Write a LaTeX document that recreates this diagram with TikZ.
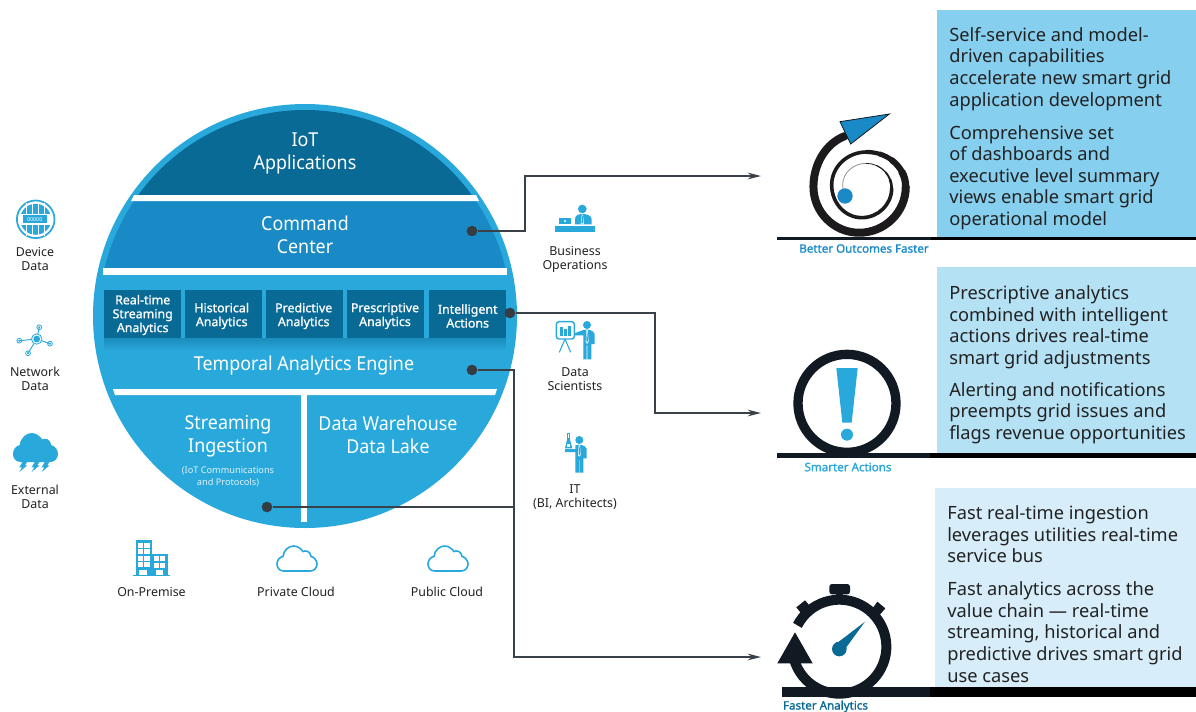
\documentclass[tikz,border=0pt]{standalone}
\usepackage{fontspec}
\setmainfont{Noto Sans}
\newfontfamily\semib[FakeBold=1.0]{Noto Sans}
\newfontfamily\tagf[FakeBold=1.4]{Noto Sans}
\IfFontExistsTF{Noto Sans Light}{\newfontfamily\lightf[FakeStretch=0.93]{Noto Sans Light}}{\newfontfamily\lightf[FakeStretch=0.93]{Noto Sans}}
\usetikzlibrary{arrows.meta,shadings}
\definecolor{cyanb}{HTML}{29A8DC}
\definecolor{midb}{HTML}{1A8AC6}
\definecolor{darkb}{HTML}{0A6A96}
\definecolor{ink}{HTML}{111922}
\definecolor{spiral}{HTML}{1C1A1C}
\definecolor{txt}{HTML}{222222}
\definecolor{wire}{HTML}{3A4149}
\definecolor{panela}{HTML}{87CFEE}
\definecolor{panelb}{HTML}{B5E1F5}
\definecolor{panelc}{HTML}{D7EEFA}
\newcommand{\cloudpath}{(20,72) .. controls (5,72) and (0,60) .. (0,52) .. controls (0,40) and (8,32) .. (18,30) .. controls (20,12) and (35,0) .. (50,0) .. controls (62,0) and (72,8) .. (78,16) .. controls (85,12) and (100,14) .. (102,30) .. controls (112,32) and (120,42) .. (120,52) .. controls (120,62) and (112,72) .. (100,72) -- cycle}
\tikzset{
 big/.style={text=white,align=center,inner sep=0,font=\lightf\fontsize{14.4pt}{17.2pt}\selectfont},
 boxt/.style={text=white,align=center,inner sep=0,font=\semib\fontsize{9.3pt}{10.4pt}\selectfont},
 lab/.style={text=txt,align=center,inner sep=0,font=\fontsize{9.3pt}{10.5pt}\selectfont},
 para/.style={text=txt,align=left,anchor=north west,inner sep=0,font=\fontsize{13.7pt}{16.2pt}\selectfont},
 tag/.style={inner sep=0,font=\tagf\fontsize{8.7pt}{10pt}\selectfont},
 dotn/.style={circle,fill=ink!85!white,inner sep=0,minimum size=8pt},
 wirel/.style={draw=wire,line width=1pt},
 arrowl/.style={wirel,-{Stealth[length=10pt,width=5pt]}},
 abox/.style={fill=darkb},
 strip/.style={fill=white},
 spiralp/.style={draw=spiral,line cap=round},
}
\begin{document}
\begin{tikzpicture}[x=.75pt,y=-.75pt]
\useasboundingbox (0,0) rectangle (1196,711);
% panels
\fill[panela] (937,10) rectangle (1196,238);
\fill[panelb] (937,267) rectangle (1196,455);
\fill[panelc] (935,488) rectangle (1196,697);
% sphere
\fill[cyanb] (305,316) circle[radius=212];
\begin{scope}
\clip (305,316) circle[radius=206];
\fill[darkb] (90,100) rectangle (520,195);
\fill[midb] (90,201) rectangle (520,268);
\end{scope}
\fill[strip] (134,195) -- (476,195) -- (479,201) -- (131,201) -- cycle;
\fill[strip] (103,268) -- (507,268) -- (507,275) -- (103,275) -- cycle;
\fill[strip] (113,389) -- (497,389) -- (495,395) -- (115,395) -- cycle;
\fill[strip] (300.7,395) rectangle (306.7,522);
\shade[bottom color=cyanb,top color=darkb!45!cyanb] (104,338) rectangle (506,351);
\fill[abox] (104,290) rectangle (181,338);
\fill[abox] (185,290) rectangle (262,338);
\fill[abox] (266,290) rectangle (343,338);
\fill[abox] (347,290) rectangle (424,338);
\fill[abox] (429,290) rectangle (506,338);
\node[big] (iot) at (305,153.5) {IoT\\Applications};
\node[big] (cmd) at (305,235) {Command\\Center};
\node[boxt] (b1) at (142.7,315) {Real-time\\Streaming\\Analytics};
\node[boxt] (b2) at (221.7,316) {Historical\\Analytics};
\node[boxt] (b3) at (303.7,316) {Predictive\\Analytics};
\node[boxt] (b4) at (385,316) {Prescriptive\\Analytics};
\node[boxt] (b5) at (467.7,316) {Intelligent\\Actions};
\node[big] (tae) at (304,365.5) {Temporal Analytics Engine};
\node[big] (si) at (228,436) {Streaming\\Ingestion};
\node[big] (dw) at (388,435) {Data Warehouse\\Data Lake};
\node[inner sep=0,align=center,text=white!85!cyanb,font=\fontsize{6.9pt}{9pt}\selectfont] (proto) at (228,476.5) {(IoT Communications\\and Protocols)};
% connectors
\node[dotn] (d1) at (472,231) {};
\node[dotn] (d2) at (510,313) {};
\node[dotn] (d3) at (472,370) {};
\node[dotn] (d4) at (267,507) {};
\coordinate (t1) at (761,176);
\coordinate (t2) at (761,413);
\coordinate (t3) at (761,657);
\coordinate (j4) at (514,507);
\draw[arrowl] (d1) -- (525,231) -- (525,176) -- (t1);
\draw[arrowl] (d2) -- (655,313) -- (655,413) -- (t2);
\draw[arrowl] (d3) -- (514,370) -- (514,657) -- (t3);
\draw[wirel] (d4) -- (j4);
% left labels
\node[lab] (l1) at (35,259) {Device\\Data};
\node[lab] (l2) at (35,379) {Network\\Data};
\node[lab] (l3) at (35,496.5) {External\\Data};
% device icon
\draw[cyanb,line width=1.3pt] (35.7,219.3) circle[radius=18.8];
\fill[cyanb] (35.7,219.3) circle[radius=15.5];
\foreach \xx in {26,31.5,38,44} \fill[white] (\xx,203) rectangle (\xx+1.4,236);
\fill[white] (20,213.5) rectangle (52,224.8);
\fill[cyanb] (22.7,215) rectangle (46.7,223.3);
\node[inner sep=0,text=white,font=\fontsize{4pt}{4pt}\selectfont] (devnum) at (34.7,219.2) {00000};
% network icon
\foreach \px/\py in {19.3/340.7,39.3/327.3,50/343.7,28/353.3}{
 \draw[cyanb,line width=.7pt] (36.7,339) -- (\px,\py);
 \draw[cyanb,line width=.6pt] (\px,\py) circle[radius=2.4];
 \fill[cyanb] (\px,\py) circle[radius=1.1];
}
\fill[white] (36.7,339) circle[radius=5.5];
\draw[cyanb,line width=.6pt] (36.7,339) circle[radius=5.2];
\fill[cyanb] (36.7,339) circle[radius=3.4];
% external cloud
\begin{scope}[shift={(13,433)},xscale=45/120,yscale=29/72]
\fill[cyanb] \cloudpath;
\end{scope}
\foreach \sx in {0,12.3,22.3}{
\begin{scope}[shift={(\sx,190)},scale=1/3]
\fill[cyanb] (68,815) -- (82,815) -- (75,826) -- (82,826) -- (58,846) -- (66,832) -- (58,832) -- cycle;
\end{scope}}
% bottom labels
\node[lab] (p1) at (151.5,592) {On-Premise};
\node[lab] (p2) at (296,592) {Private Cloud};
\node[lab] (p3) at (447,592) {Public Cloud};
\begin{scope}[shift={(100,530)},scale=1/3]
\fill[cyanb] (107,30) rectangle (155,135);
\fill[cyanb] (155,72) rectangle (203,135);
\fill[cyanb] (100,135) rectangle (210,138);
\foreach \yy in {38,58,77,97}{
 \fill[white] (114,\yy) rectangle (130,\yy+15);
 \fill[white] (133,\yy) rectangle (150,\yy+15);}
\foreach \yy in {78,98}{
 \fill[white] (163,\yy) rectangle (178,\yy+15);
 \fill[white] (180,\yy) rectangle (196,\yy+15);}
\fill[white] (118,120) rectangle (140,135);
\fill[white] (168,120) rectangle (190,135);
\end{scope}
\begin{scope}[shift={(277,546)},xscale=40/120,yscale=25/72]
\draw[cyanb,line width=1.2pt] \cloudpath;
\end{scope}
\begin{scope}[shift={(428,546)},xscale=40/120,yscale=25/72]
\draw[cyanb,line width=1.2pt] \cloudpath;
\end{scope}
% people
\node[lab] (r1) at (575,259.5) {Business\\Operations};
\node[lab] (r2) at (575,379) {Data\\Scientists};
\node[lab] (r3) at (575,497.5) {IT\\(BI, Architects)};
\begin{scope}[shift={(530,190)},scale=1/3]
% business
\fill[cyanb] (75,108) rectangle (195,126);
\fill[cyanb] (157,57) circle[radius=13];
\fill[cyanb] (135,103) -- (135,88) .. controls (135,76) and (145,72) .. (157,72) .. controls (170,72) and (185,76) .. (185,88) -- (185,103) -- cycle;
\fill[white] (155,74) -- (159,74) -- (162,103) -- (152,103) -- cycle;
\fill[cyanb] (156,76) -- (158,76) -- (160,100) -- (154,100) -- cycle;
\fill[cyanb] (87,83) rectangle (123,103);
\fill[white] (105,93) circle[radius=3.5];
% scientist
\draw[cyanb,line width=1.1pt,rounded corners=2pt] (79,395) rectangle (133,447);
\fill[cyanb] (90,410) rectangle (99,437);
\fill[cyanb] (102,418) rectangle (111,437);
\fill[cyanb] (114,407) rectangle (123,437);
\draw[cyanb,line width=.8pt] (105,447) -- (88,487) (105,447) -- (122,487);
\fill[cyanb] (171,405) circle[radius=12];
\fill[cyanb] (160,420) .. controls (172,416) and (190,420) .. (194,432) -- (194,462) -- (184,462) -- (184,508) -- (172,508) -- (172,466) -- (170,466) -- (170,508) -- (160,508) -- (160,436) -- (135,436) -- (133,430) -- cycle;
\fill[white] (169,420) -- (173,420) -- (176,455) -- (171,462) -- (167,455) -- cycle;
\fill[cyanb] (170,424) -- (172,424) -- (174,452) -- (171,458) -- (169,452) -- cycle;
% IT
\fill[cyanb] (148,750) circle[radius=12];
\fill[cyanb] (136,766) .. controls (146,762) and (165,764) .. (170,776) -- (170,805) -- (160,805) -- (160,848) -- (149,848) -- (149,810) -- (147,810) -- (147,848) -- (136,848) -- (136,786) -- (105,786) -- (105,777) -- (136,777) -- cycle;
\fill[white] (146,766) -- (150,766) -- (152,795) -- (148,800) -- (144,795) -- cycle;
\fill[cyanb] (147,770) -- (149,770) -- (150,792) -- (148,796) -- (146,792) -- cycle;
\draw[cyanb,line width=.8pt] (112,730) rectangle (119,745);
\fill[cyanb] (112,745) -- (119,745) -- (127,775) -- (105,775) -- cycle;
\fill[white] (111,762) rectangle (120,770);
\end{scope}
% texts on panels
\node[para] (t1a) at (949,27) {Self-service and model-\\driven capabilities\\accelerate new smart grid\\application development};
\node[para] (t1b) at (949,125) {Comprehensive set\\of dashboards and\\executive level summary\\views enable smart grid\\operational model};
\node[para] (t2a) at (949,285.5) {Prescriptive analytics\\combined with intelligent\\actions drives real-time\\smart grid adjustments};
\node[para] (t2b) at (949,382) {Alerting and notifications\\preempts grid issues and\\flags revenue opportunities};
\node[para] (t3a) at (947,505.5) {Fast real-time ingestion\\leverages utilities real-time\\service bus};
\node[para] (t3b) at (947,581.5) {Fast analytics across the\\value chain — real-time\\streaming, historical and\\predictive drives smart grid\\use cases};
% base bars
\fill[ink] (777,237) rectangle (931,240);
\fill[black] (931,237) rectangle (1196,240);
\fill[ink] (777,453) rectangle (930,458);
\fill[black] (930,453) rectangle (1196,458);
\fill[ink] (782,687) rectangle (930,697);
\fill[black] (930,687) rectangle (1196,697);
% icon 1
\begin{scope}[shift={(760,100)},scale=1/3]
\draw[spiralp,line width=6pt] (255,108) arc[start angle=252,end angle=180,x radius=137,y radius=160]
 arc[start angle=180,end angle=90,x radius=137,y radius=138]
 arc[start angle=90,end angle=0,x radius=140,y radius=138];
\foreach \sa/\ea/\wd in {0/-25/5.4,-25/-50/4.6,-50/-70/3.8,-70/-90/3.2}
 \draw[spiralp,line width=\wd pt] ({320+117*cos(\sa)},{260+104*sin(\sa)}) arc[start angle=\sa,end angle=\ea,x radius=117,y radius=104];
\draw[spiralp,line width=2.7pt] (320,156) arc[start angle=-90,end angle=-180,x radius=105,y radius=99]
 arc[start angle=180,end angle=90,x radius=90,y radius=98]
 arc[start angle=90,end angle=0,x radius=90,y radius=88];
\foreach \sa/\ea/\wd in {0/-20/2,-20/-40/1.4,-40/-65/.9,-65/-90/.6}
 \draw[spiralp,line width=\wd pt] ({318+77*cos(\sa)},{265+75*sin(\sa)}) arc[start angle=\sa,end angle=\ea,x radius=77,y radius=75];
\draw[gray,line width=.5pt] (318,190) arc[start angle=-90,end angle=-180,x radius=70,y radius=65] -- (250,275);
\fill[midb] (255,288) circle[radius=23];
\draw[fill=midb,draw=ink,line width=.6pt] (240,65) -- (388,42) -- (272,132) -- cycle;
\end{scope}
\node[tag,text=midb] (o1) at (864,248.5) {Better Outcomes Faster};
% icon 2
\begin{scope}[shift={(760,340)},scale=1/3]
\draw[ink,line width=7pt] (261,190) circle[radius=147];
\fill[cyanb] (229,84) -- (293,84) -- (275,248) -- (247,248) -- cycle;
\fill[cyanb] (261,284) circle[radius=18];
\end{scope}
\node[tag,text=cyanb] (o2) at (848,467) {Smarter Actions};
% icon 3
\begin{scope}[shift={(760,575)},scale=1/3]
\draw[ink,line width=7.5pt] (112.4,151) arc[start angle=-153,end angle=165,radius=141];
\fill[ink] (105,172) -- (158,265) -- (52,265) -- cycle;
\fill[ink,rounded corners=2pt] (208,27) rectangle (270,58);
\fill[ink] (228,55) rectangle (250,72);
\fill[ink] (109,97) -- (135,76) -- (163,108) -- (136,130) -- cycle;
\fill[ink] (332,108) -- (352,80) -- (376,100) -- (352,128) -- cycle;
\fill[darkb] (230,205) -- (315,140) -- (248,232) -- cycle;
\fill[darkb] (238,222) circle[radius=22];
\end{scope}
\node[tag,text=darkb] (o3) at (825.5,706.5) {Faster Analytics};
\end{tikzpicture}
\end{document}
